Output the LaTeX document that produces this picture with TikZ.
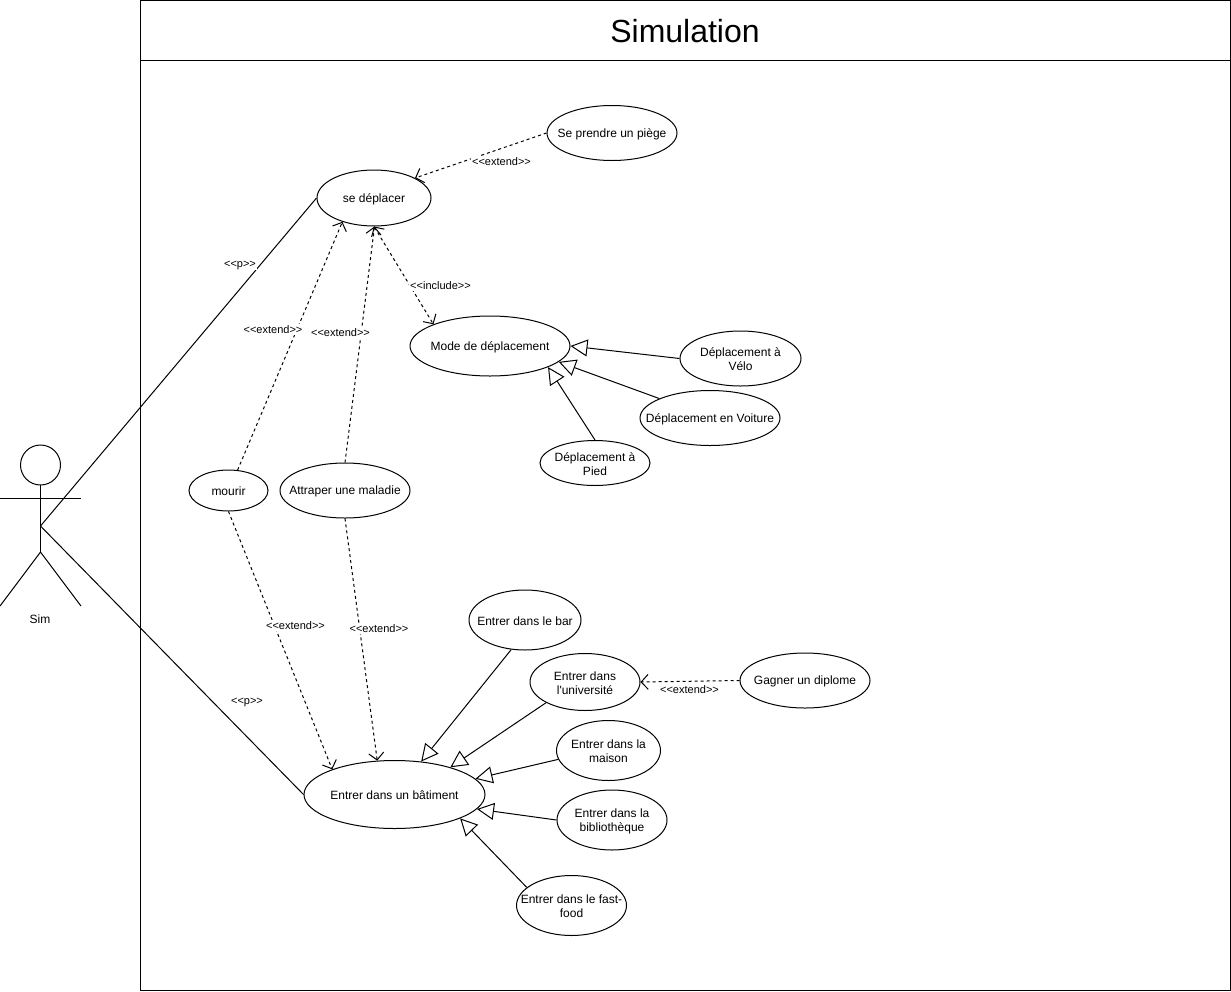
\documentclass[tikz,border=0pt]{standalone}
\usepackage{fontspec}
\setmainfont{Liberation Sans}[Ligatures=TeXOff]
\usetikzlibrary{arrows.meta,shapes.geometric}
\newcommand{\stereo}[1]{<{}<#1>{}>}
\tikzset{
  usecase/.style n args={3}{draw,ellipse,inner sep=0pt,minimum width=#1pt,minimum height=#2pt,
    label={[font=\fontsize{12}{14}\selectfont,align=center,yshift=-1pt]center:{#3}}},
  stereolabel/.style={fill=white,inner sep=1pt,font=\fontsize{11}{13}\selectfont},
  depend/.style={dash pattern=on 3pt off 3pt,->},
  generalize/.style={-{Triangle[open,length=17pt,width=17pt]}}
}

\begin{document}
\begin{tikzpicture}[x=1pt,y=-1pt,line width=1pt,>={Straight Barb[length=7pt,width=15pt]}]
  \useasboundingbox (0,0) rectangle (1231,991);
  % System frame with title bar
  \draw (140.5,0.5) rectangle (1230.5,990.5);
  \draw (140.5,60.5)--(1230.5,60.5);
  \node[font=\fontsize{32}{38}\selectfont] (title) at (685,31) {Simulation};
  % Actor
  \coordinate (head) at (40.5,465);
  \coordinate (neck) at (40.5,485);
  \coordinate (hip) at (40.5,552);
  \coordinate (hand) at (40.5,526);
  \draw (head) circle (20);
  \draw (neck)--(hip);
  \draw (0,498.5)--(81,498.5);
  \draw (0,606)--(hip)--(81,606);
  \node[font=\fontsize{12}{14}\selectfont] (sim) at (40,619) {Sim};
  % Use cases, top group
  \node[usecase={114}{56}{se déplacer}] (deplacer) at (374,198) {};
  \node[usecase={130}{55}{Se prendre un piège}] (piege) at (612,133) {};
  \node[usecase={160}{60}{Mode de déplacement}] (mode) at (490,346) {};
  \node[usecase={121}{55}{Déplacement à\\Vélo}] (velo) at (740.5,358.5) {};
  \node[usecase={140}{55}{Déplacement en Voiture}] (voiture) at (710,418) {};
  \node[usecase={110}{45}{Déplacement à\\Pied}] (pied) at (595,463) {};
  \node[usecase={79}{41}{mourir}] (mourir) at (228.5,490.5) {};
  \node[usecase={130}{55}{Attraper une maladie}] (maladie) at (345,490.5) {};
  % Use cases, bottom group
  \node[usecase={181}{68}{Entrer dans un bâtiment}] (batiment) at (394.5,794.5) {};
  \node[usecase={112}{60}{Entrer dans le bar}] (bar) at (525,620) {};
  \node[usecase={110}{57}{Entrer dans\\l'université}] (universite) at (585,682) {};
  \node[usecase={130}{55}{Gagner un diplome}] (diplome) at (805,680.5) {};
  \node[usecase={104}{60}{Entrer dans la\\maison}] (maison) at (608.5,750.5) {};
  \node[usecase={110}{60}{Entrer dans la\\bibliothèque}] (biblio) at (612,820) {};
  \node[usecase={110}{60}{Entrer dans le fast-\\food}] (fastfood) at (571.5,905.5) {};
  % Actor associations
  \draw (hand)--(deplacer.180);
  \draw (hand)--(batiment.180);
  % Dependencies
  \draw[depend] (piege.180)--(deplacer.26);
  \draw[depend] (mourir.66)--(deplacer.217);
  \draw[depend] (maladie.90)--(deplacer.271);
  \draw[depend,<->] (deplacer.270)--(mode.159);
  \draw[depend] (mourir.270)--(batiment.158);
  \draw[depend] (maladie.270)--(batiment.117);
  \draw[depend] (diplome.180)--(universite.0);
  % Generalizations
  \draw[generalize] (velo.180)--(mode.0);
  \draw[generalize] (voiture.159)--(mode.-13);
  \draw[generalize] (pied.90)--(mode.-20);
  \draw[generalize] (bar.245)--(batiment.51);
  \draw[generalize] (universite.208)--(batiment.26);
  \draw[generalize] (maison.190)--(batiment.11);
  \draw[generalize] (biblio.180)--(batiment.-10);
  \draw[generalize] (fastfood.158)--(batiment.-20);
  % Stereotype labels
  \node[stereolabel] (lblpiege) at (501.5,161.5) {\stereo{extend}};
  \node[stereolabel] (lblinclude) at (440.5,285.5) {\stereo{include}};
  \node[stereolabel] (lblmourirhaut) at (273,329.5) {\stereo{extend}};
  \node[stereolabel] (lblmaladiehaut) at (340.5,332.5) {\stereo{extend}};
  \node[stereolabel] (lblmourirbas) at (295.5,625.5) {\stereo{extend}};
  \node[stereolabel] (lblmaladiebas) at (379,628.5) {\stereo{extend}};
  \node[stereolabel] (lbldiplome) at (689.5,689.5) {\stereo{extend}};
  \node[stereolabel] (lblphaut) at (240,265) {\stereo{p}};
  \node[stereolabel] (lblpbas) at (247,702) {\stereo{p}};
\end{tikzpicture}
\end{document}
